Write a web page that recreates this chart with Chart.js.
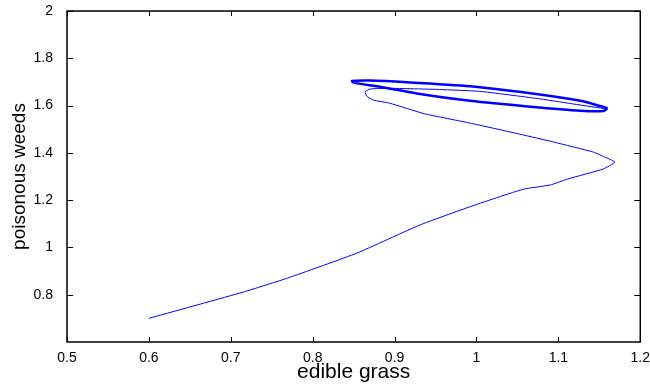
<!DOCTYPE html>
<html>
<head>
<meta charset="utf-8">
<script src="https://cdn.jsdelivr.net/npm/chart.js@4"></script>
<style>
  body { margin: 0; background: #fff; }
  #wrap { width: 650px; height: 385px; }
</style>
</head>
<body>
<div id="wrap"><canvas id="phaseChart" width="650" height="385"></canvas></div>
<script>
// edible grass (x) vs poisonous weeds (y)
const transientX = [0.600, 0.715, 0.770, 0.854, 0.931, 0.992, 1.057, 1.090, 1.111, 1.155, 1.169,
                    1.158, 1.143, 1.094, 1.053, 0.992, 0.937, 0.894, 0.874, 0.866, 0.864, 0.870,
                    0.894, 0.955, 1.004, 1.074, 1.114, 1.155, 1.160];
const transientY = [0.700, 0.811, 0.871, 0.976, 1.095, 1.172, 1.246, 1.264, 1.289, 1.332, 1.361,
                    1.380, 1.403, 1.446, 1.479, 1.526, 1.565, 1.610, 1.623, 1.640, 1.658, 1.670,
                    1.673, 1.668, 1.660, 1.630, 1.609, 1.588, 1.587];

// the closed limit cycle the trajectory settles on
const cycleX = [1.160, 1.151, 1.127, 1.066, 0.992, 0.915, 0.870, 0.848, 0.850, 0.882, 0.931,
                0.992, 1.066, 1.127, 1.155, 1.160];
const cycleY = [1.589, 1.598, 1.620, 1.652, 1.682, 1.699, 1.706, 1.704, 1.697, 1.680, 1.649,
                1.620, 1.595, 1.578, 1.577, 1.589];

const xTicks = [0.5, 0.6, 0.7, 0.8, 0.9, 1, 1.1, 1.2];
const yTicks = [0.8, 1, 1.2, 1.4, 1.6, 1.8, 2];

const toPoints = (xs, ys) => xs.map((x, i) => ({ x: x, y: ys[i] }));

// MATLAB style box with inward ticks on all four sides
const boxTicks = {
    id: 'boxTicks',
    afterDraw(chart) {
        const { ctx, chartArea: a, scales } = chart;
        ctx.save();
        ctx.strokeStyle = '#000';
        ctx.lineWidth = 1.5;
        ctx.strokeRect(a.left, a.top, a.right - a.left, a.bottom - a.top);
        ctx.lineWidth = 1;
        ctx.beginPath();
        xTicks.forEach(v => {
            const px = Math.round(scales.x.getPixelForValue(v)) + 0.5;
            ctx.moveTo(px, a.bottom); ctx.lineTo(px, a.bottom - 5);
            ctx.moveTo(px, a.top); ctx.lineTo(px, a.top + 5);
        });
        yTicks.forEach(v => {
            const py = Math.round(scales.y.getPixelForValue(v)) + 0.5;
            ctx.moveTo(a.left, py); ctx.lineTo(a.left + 6, py);
            ctx.moveTo(a.right, py); ctx.lineTo(a.right - 6, py);
        });
        ctx.stroke();
        ctx.restore();
    }
};

const font = 'Liberation Sans, Arial, Helvetica, sans-serif';

new Chart(document.getElementById('phaseChart'), {
    type: 'scatter',
    data: {
        datasets: [{
            data: toPoints(transientX, transientY),
            showLine: true,
            borderColor: '#0000ff',
            borderWidth: 1,
            pointRadius: 0,
            tension: 0.15
        }, {
            data: toPoints(cycleX, cycleY),
            showLine: true,
            borderColor: '#0000ff',
            borderWidth: 2.5,
            pointRadius: 0,
            tension: 0.2
        }]
    },
    options: {
        responsive: false,
        animation: false,
        devicePixelRatio: 1,
        layout: { padding: { top: 0, right: 7, left: 0, bottom: 0 } },
        plugins: { legend: { display: false }, tooltip: { enabled: false } },
        scales: {
            x: {
                type: 'linear',
                min: 0.5,
                max: 1.2,
                afterBuildTicks: s => { s.ticks = xTicks.map(v => ({ value: v })); },
                afterFit: s => { s.height = 43; },
                grid: { display: false },
                border: { display: false },
                ticks: { color: '#000', font: { family: font, size: 14 }, padding: 0, maxRotation: 0,
                         callback: v => String(v) },
                title: { display: true, text: 'edible grass', color: '#000',
                         font: { family: font, size: 21 }, padding: { top: 0, bottom: 0 } }
            },
            y: {
                type: 'linear',
                min: 0.6,
                max: 2,
                afterBuildTicks: s => { s.ticks = yTicks.map(v => ({ value: v })); },
                afterFit: s => { s.width = 67; s.paddingTop = 11; },
                grid: { display: false },
                border: { display: false },
                ticks: { color: '#000', font: { family: font, size: 14 }, padding: 6,
                         callback: v => String(v) },
                title: { display: true, text: 'poisonous weeds', color: '#000',
                         font: { family: font, size: 19 }, padding: { top: 8, bottom: 0 } }
            }
        }
    },
    plugins: [boxTicks]
});
</script>
</body>
</html>
